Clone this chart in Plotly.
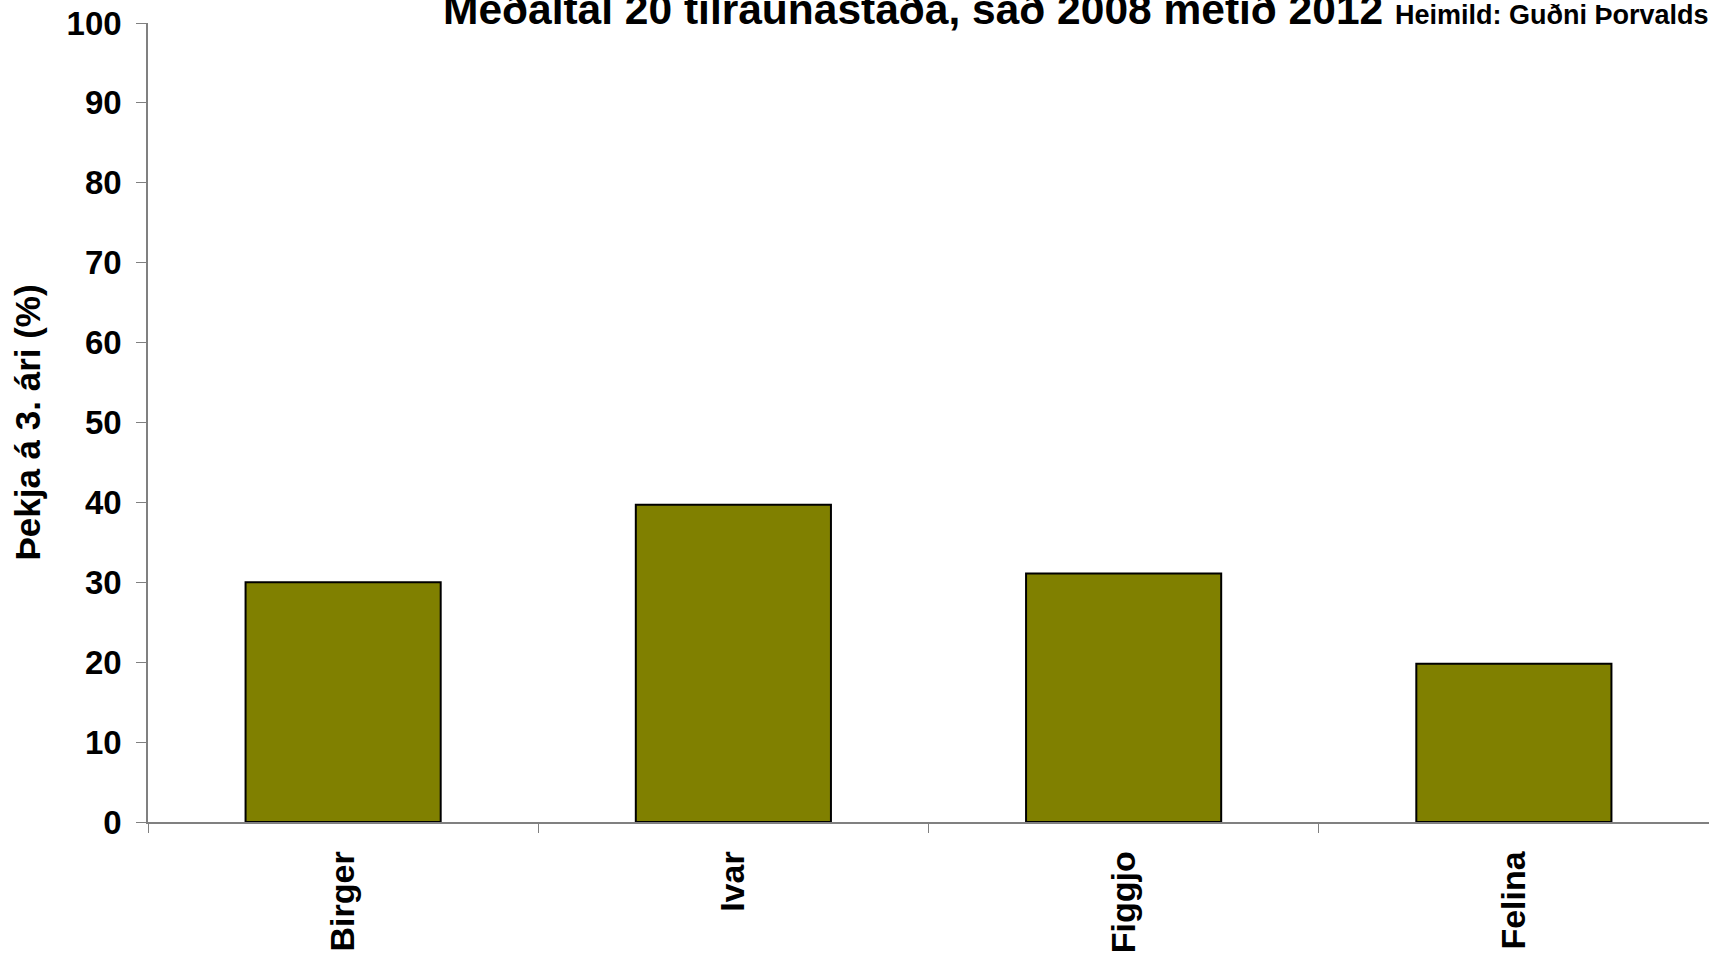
import plotly.graph_objects as go

categories = ["Birger", "Ivar", "Figgjo", "Felina"]
values = [30.0, 39.7, 31.1, 19.8]
y_ticks = [0, 10, 20, 30, 40, 50, 60, 70, 80, 90, 100]

title_text = "Meðaltal 20 tilraunastaða, sáð 2008 metið 2012"
source_text = "Heimild: Guðni Þorvaldsson"
y_title = "Þekja á 3. ári (%)"

FONT = "Liberation Sans, Arial, sans-serif"

fig = go.Figure()
fig.add_trace(go.Bar(
    x=categories, y=values, width=0.5,
    marker=dict(color="#808000", line=dict(color="#000000", width=2)),
))

fig.update_layout(
    width=1709, height=954,
    margin=dict(l=148, r=0, t=23, b=132, pad=0),
    paper_bgcolor="white", plot_bgcolor="white",
    showlegend=False,
    font=dict(family=FONT, color="black"),
    xaxis=dict(
        range=[-0.5, 3.5],
        showline=True, linecolor="#808080", linewidth=1.5,
        ticks="outside", tickson="boundaries", ticklen=9, tickcolor="#808080", tickwidth=1,
        tickangle=-90, tickfont=dict(family=FONT, size=34, color="black", weight="bold"),
        ticklabelstandoff=14,
        showgrid=False, zeroline=False,
    ),
    yaxis=dict(
        range=[0, 100], tickvals=y_ticks,
        showline=True, linecolor="#808080", linewidth=1.5,
        ticks="outside", ticklen=10, tickcolor="#808080", tickwidth=1,
        tickfont=dict(family=FONT, size=33, color="black", weight="bold"),
        ticklabelstandoff=8,
        showgrid=False, zeroline=False,
        title=dict(text=y_title, font=dict(family=FONT, size=35, color="black", weight="bold"), standoff=15),
    ),
    annotations=[dict(
        xref="paper", yref="paper", x=(441 - 148) / 1561, y=1,
        xanchor="left", yanchor="bottom", yshift=-12, showarrow=False,
        text=f"<b>{title_text} <span style='font-size:27px'>{source_text}</span></b>",
        font=dict(family=FONT, size=42.5, color="black"),
    )],
)

fig.write_html("out.html", config={"displayModeBar": False},
               post_script="document.body.style.margin='0px';")
